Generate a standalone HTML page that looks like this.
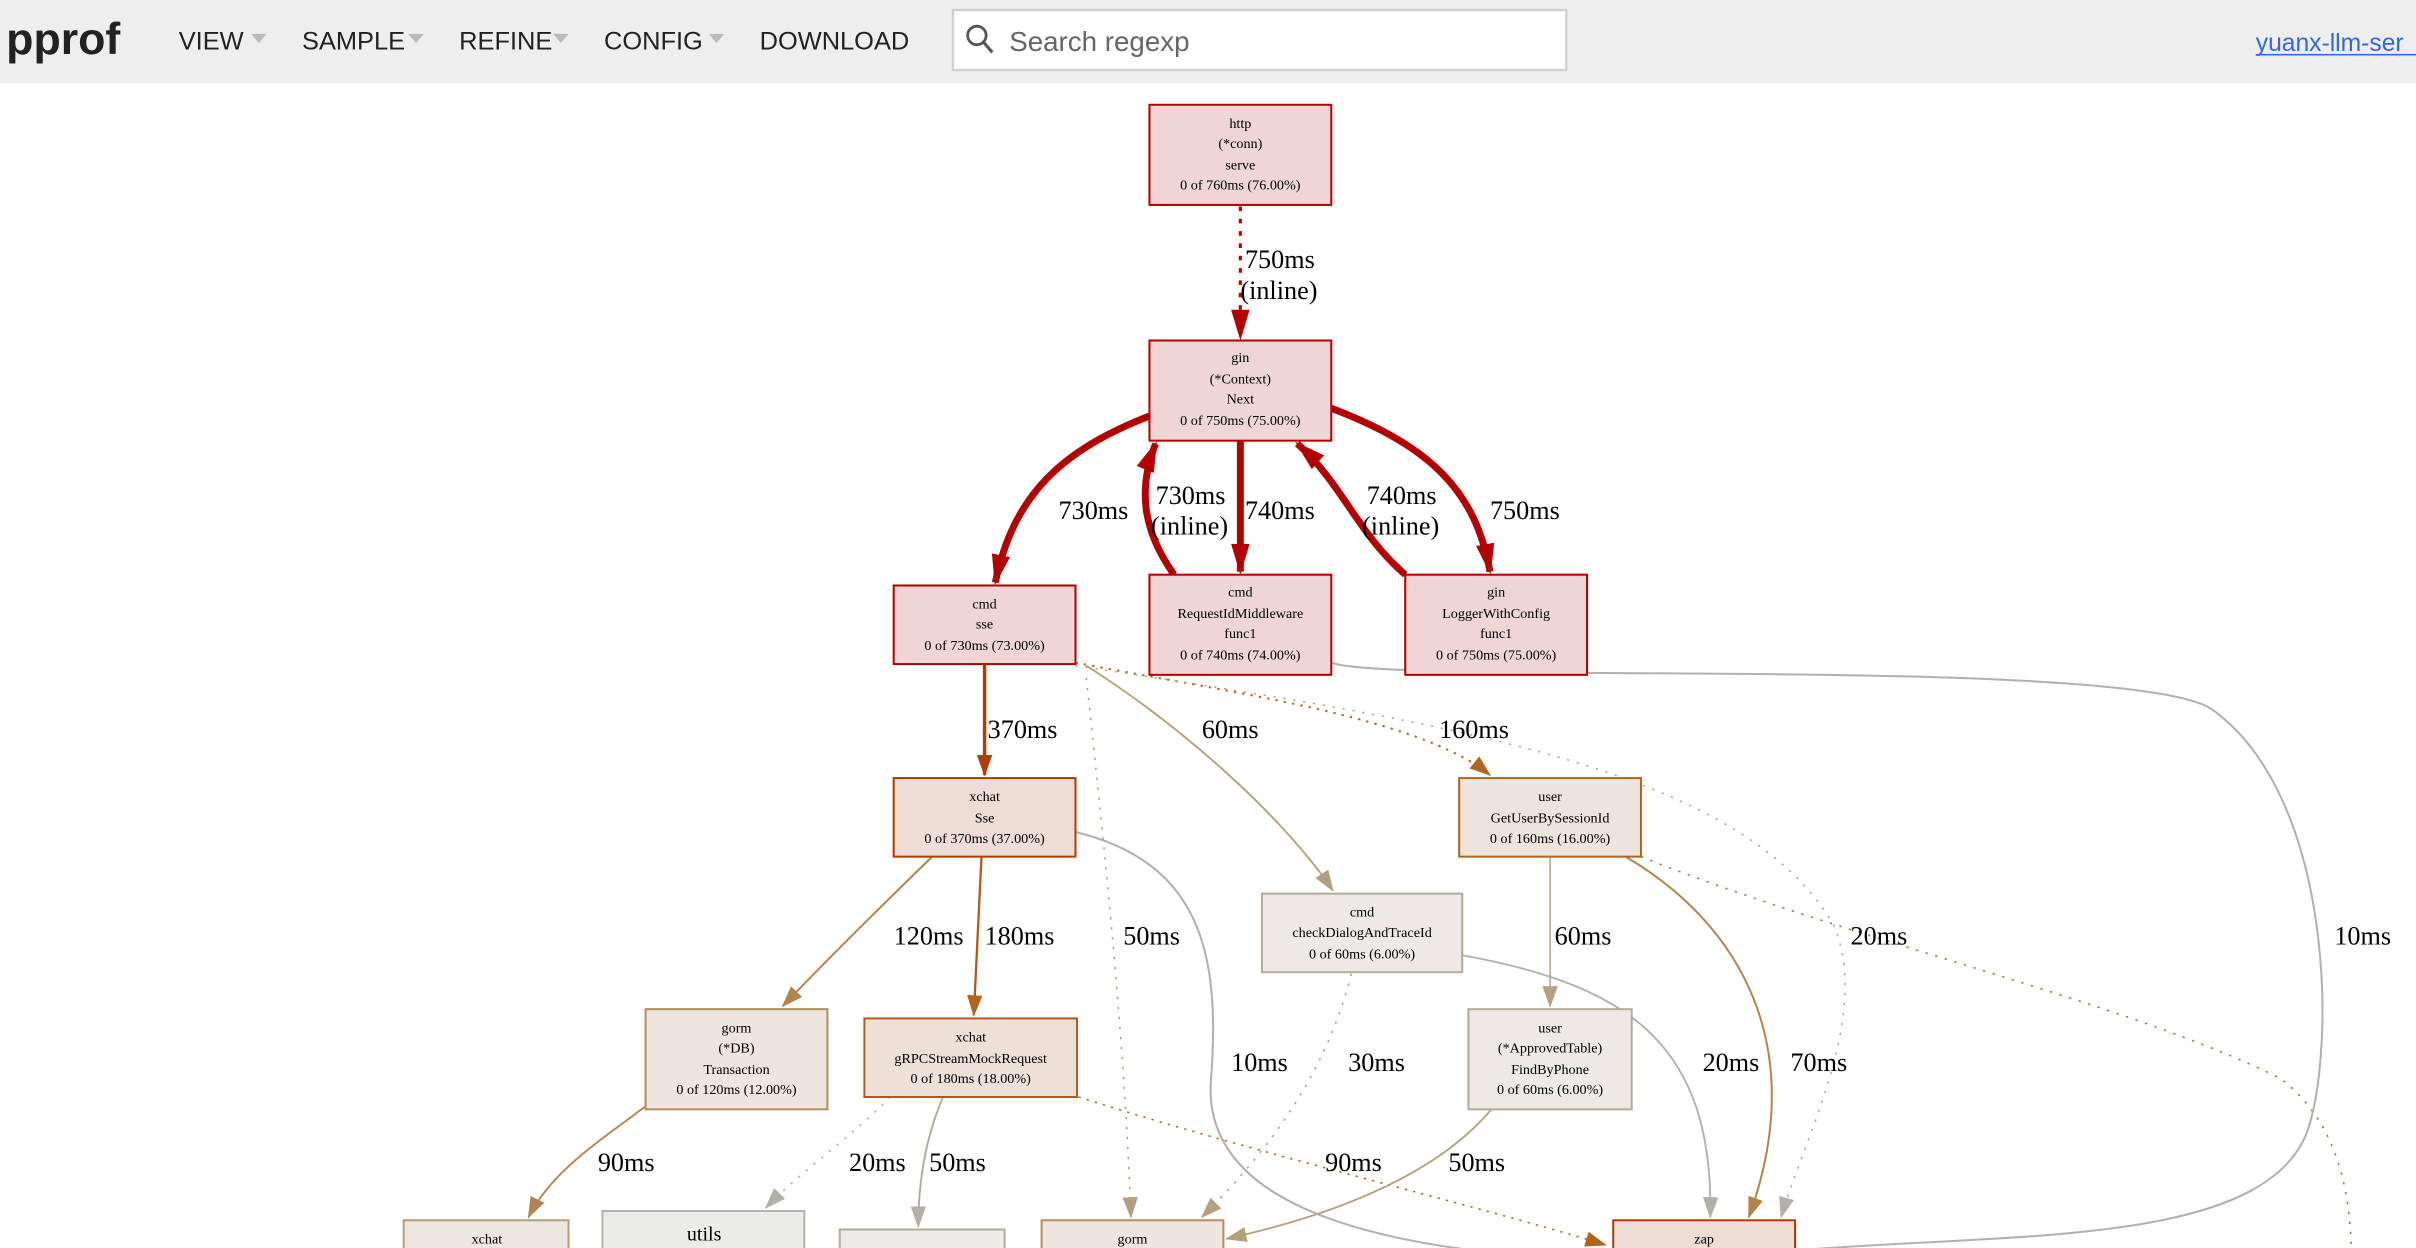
<!DOCTYPE html>
<html><head><meta charset="utf-8"><style>
html,body{margin:0;padding:0;background:#fff;overflow:hidden}
svg{display:block}
.h{font-family:"Liberation Sans",sans-serif}
.n{font-family:"Liberation Serif",serif;font-size:9.2px;text-anchor:middle;fill:#000}
.l{font-family:"Liberation Serif",serif;font-size:17px;fill:#000}
</style></head><body>
<svg width="2416" height="1248" viewBox="0 0 1568 810" preserveAspectRatio="none" xmlns="http://www.w3.org/2000/svg">
<defs>
<marker id="ar" markerUnits="userSpaceOnUse" markerWidth="20" markerHeight="20" refX="18" refY="6" orient="auto" viewBox="0 0 20 12"><path d="M0,0 L20,6 L0,12z" fill="#b20000"/></marker>
<marker id="ao" markerUnits="userSpaceOnUse" markerWidth="14" markerHeight="12" refX="13" refY="5" orient="auto" viewBox="0 0 14 10"><path d="M0,0 L14,5 L0,10z" fill="#b23c00"/></marker>
<marker id="ab" markerUnits="userSpaceOnUse" markerWidth="14" markerHeight="12" refX="13" refY="5" orient="auto" viewBox="0 0 14 10"><path d="M0,0 L14,5 L0,10z" fill="#b2651e"/></marker>
<marker id="at" markerUnits="userSpaceOnUse" markerWidth="14" markerHeight="12" refX="13" refY="5" orient="auto" viewBox="0 0 14 10"><path d="M0,0 L14,5 L0,10z" fill="#b2a080"/></marker>
<marker id="ag" markerUnits="userSpaceOnUse" markerWidth="14" markerHeight="12" refX="13" refY="5" orient="auto" viewBox="0 0 14 10"><path d="M0,0 L14,5 L0,10z" fill="#b2b0a8"/></marker>
<marker id="am" markerUnits="userSpaceOnUse" markerWidth="14" markerHeight="12" refX="13" refY="5" orient="auto" viewBox="0 0 14 10"><path d="M0,0 L14,5 L0,10z" fill="#b28550"/></marker>
</defs>
<!-- header -->
<rect x="0" y="0" width="1568" height="54" fill="#eeeeee"/>
<text class="h" x="4" y="35" font-size="29" font-weight="bold" fill="#222">pprof</text>
<g class="h" font-size="16.5" fill="#222">
<text x="116" y="32">VIEW</text><text x="196" y="32">SAMPLE</text><text x="298" y="32">REFINE</text><text x="392" y="32">CONFIG</text><text x="493" y="32">DOWNLOAD</text>
</g>
<g fill="#bbb"><path d="M163,22h10l-5,6z"/><path d="M265,22h10l-5,6z"/><path d="M359,22h10l-5,6z"/><path d="M460,22h10l-5,6z"/></g>
<rect x="618.5" y="6.5" width="398" height="39" fill="#fff" stroke="#d0d0d0" stroke-width="1.5"/>
<circle cx="634" cy="23" r="6" fill="none" stroke="#555" stroke-width="1.8"/><path d="M638,27 L644,34" stroke="#555" stroke-width="2"/>
<text class="h" x="655" y="33" font-size="18" fill="#666">Search regexp</text>
<text class="h" x="1464" y="33" font-size="16" fill="#3366dd">yuanx-llm-ser</text>
<rect x="1464" y="35" width="104" height="1" fill="#3366dd"/>

<!-- edges -->
<g fill="none">
<path d="M805,134 L805,219" stroke="#b20000" stroke-width="2" stroke-dasharray="3,5" marker-end="url(#ar)"/>
<path d="M746,270 C690,292 658,320 646,378" stroke="#b20000" stroke-width="4.5" marker-end="url(#ar)"/>
<path d="M762,373 C742,345 738,318 750,288" stroke="#b20000" stroke-width="4.5" marker-end="url(#ar)"/>
<path d="M805,286 L805,371" stroke="#b20000" stroke-width="4.5" marker-end="url(#ar)"/>
<path d="M912,373 C880,345 872,315 842,288" stroke="#b20000" stroke-width="4.5" marker-end="url(#ar)"/>
<path d="M864,265 C930,290 958,320 967,371" stroke="#b20000" stroke-width="4.5" marker-end="url(#ar)"/>
<path d="M639,431 L639,503" stroke="#b23c00" stroke-width="2.2" marker-end="url(#ao)"/>
<path d="M698,430 C800,450 920,465 967,503" stroke="#b2651e" stroke-width="1.3" stroke-dasharray="1.5,4" marker-end="url(#ab)"/>
<path d="M705,432 C780,480 840,540 865,578" stroke="#b2a080" stroke-width="1.2" marker-end="url(#at)"/>
<path d="M705,440 C718,560 730,680 734,790" stroke="#b2a080" stroke-width="1" stroke-dasharray="1.5,5" marker-end="url(#at)"/>
<path d="M698,432 C950,470 1130,500 1190,600 C1215,660 1170,740 1156,790" stroke="#b2a898" stroke-width="1" stroke-dasharray="1.5,5" marker-end="url(#ag)"/>
<path d="M1065,556 C1200,610 1380,650 1480,700 C1520,730 1525,780 1526,810" stroke="#b27040" stroke-width="1" stroke-dasharray="1.5,5"/>
<path d="M864,430 C900,445 1380,425 1435,460 C1520,520 1515,700 1495,740 C1460,810 1300,800 1160,812" stroke="#b2b0ac" stroke-width="1.3"/>
<path d="M698,540 C780,560 792,620 786,700 C780,770 860,800 960,812" stroke="#b2b0ac" stroke-width="1.3"/>
<path d="M605,556 C570,590 530,630 508,653" stroke="#b28550" stroke-width="1.3" marker-end="url(#am)"/>
<path d="M637,556 L632,659" stroke="#b25a1e" stroke-width="1.5" marker-end="url(#ab)"/>
<path d="M1006,556 L1006,653" stroke="#b2a080" stroke-width="1" marker-end="url(#at)"/>
<path d="M1055,556 C1130,600 1175,680 1135,790" stroke="#b28550" stroke-width="1.3" marker-end="url(#am)"/>
<path d="M949,620 C1060,640 1112,680 1110,790" stroke="#b2b0ac" stroke-width="1.2" marker-end="url(#ag)"/>
<path d="M877,632 C860,700 820,750 780,790" stroke="#b2a080" stroke-width="1" stroke-dasharray="1.5,5" marker-end="url(#at)"/>
<path d="M419,718 C390,740 358,760 343,790" stroke="#b28550" stroke-width="1.2" marker-end="url(#am)"/>
<path d="M578,712 C550,740 520,760 497,784" stroke="#b2b0a8" stroke-width="1" stroke-dasharray="1.5,5" marker-end="url(#ag)"/>
<path d="M612,712 C600,740 596,770 596,796" stroke="#b2a898" stroke-width="1.2" marker-end="url(#ag)"/>
<path d="M700,712 C820,750 950,780 1042,808" stroke="#b2651e" stroke-width="1" stroke-dasharray="1.5,4" marker-end="url(#ab)"/>
<path d="M968,720 C930,765 860,790 796,804" stroke="#b2a080" stroke-width="1.2" marker-end="url(#at)"/>
</g>

<!-- edge labels -->
<g class="l">
<text x="808" y="174">750ms</text><text x="805" y="194">(inline)</text>
<text x="687" y="337">730ms</text>
<text x="750" y="327">730ms</text><text x="747" y="347">(inline)</text>
<text x="808" y="337">740ms</text>
<text x="887" y="327">740ms</text><text x="884" y="347">(inline)</text>
<text x="967" y="337">750ms</text>
<text x="641" y="479">370ms</text>
<text x="780" y="479">60ms</text>
<text x="934" y="479">160ms</text>
<text x="580" y="613">120ms</text><text x="639" y="613">180ms</text>
<text x="729" y="613">50ms</text>
<text x="1009" y="613">60ms</text>
<text x="1201" y="613">20ms</text>
<text x="1515" y="613">10ms</text>
<text x="799" y="695">10ms</text><text x="875" y="695">30ms</text>
<text x="1105" y="695">20ms</text><text x="1162" y="695">70ms</text>
<text x="388" y="760">90ms</text><text x="551" y="760">20ms</text><text x="603" y="760">50ms</text>
<text x="860" y="760">90ms</text><text x="940" y="760">50ms</text>
</g>

<!-- nodes -->
<g stroke-width="1.3">
<rect x="746" y="68" width="118" height="65" fill="#edd6d5" stroke="#b20000"/>
<rect x="746" y="221" width="118" height="65" fill="#edd6d5" stroke="#b20000"/>
<rect x="580" y="380" width="118" height="51" fill="#edd6d5" stroke="#b20000"/>
<rect x="746" y="373" width="118" height="65" fill="#edd6d5" stroke="#b20000"/>
<rect x="912" y="373" width="118" height="65" fill="#edd6d5" stroke="#b20000"/>
<rect x="580" y="505" width="118" height="51" fill="#edddd5" stroke="#b23c00"/>
<rect x="947" y="505" width="118" height="51" fill="#ede4dc" stroke="#b2651e"/>
<rect x="819" y="580" width="130" height="51" fill="#edeae6" stroke="#b2ab9a"/>
<rect x="419" y="655" width="118" height="65" fill="#ede5de" stroke="#b28d62"/>
<rect x="561" y="661" width="138" height="51" fill="#ede0d7" stroke="#b25a1e"/>
<rect x="953" y="655" width="106" height="65" fill="#edeae6" stroke="#b2ab9a"/>
<rect x="262" y="792" width="107" height="30" fill="#ede7e1" stroke="#b29d7f"/>
<rect x="391" y="786" width="131" height="40" fill="#ececeb" stroke="#b2b2ae"/>
<rect x="545" y="798" width="107" height="30" fill="#edebe8" stroke="#b2ab9a"/>
<rect x="676" y="792" width="118" height="30" fill="#ede5de" stroke="#b28d62"/>
<rect x="1047" y="792" width="118" height="30" fill="#edddd5" stroke="#b23c00"/>
</g>
<g class="n">
<text x="805" y="83">http</text><text x="805" y="96">(*conn)</text><text x="805" y="110">serve</text><text x="805" y="123">0 of 760ms (76.00%)</text>
<text x="805" y="235">gin</text><text x="805" y="249">(*Context)</text><text x="805" y="262">Next</text><text x="805" y="276">0 of 750ms (75.00%)</text>
<text x="639" y="395">cmd</text><text x="639" y="408">sse</text><text x="639" y="422">0 of 730ms (73.00%)</text>
<text x="805" y="387">cmd</text><text x="805" y="401">RequestIdMiddleware</text><text x="805" y="414">func1</text><text x="805" y="428">0 of 740ms (74.00%)</text>
<text x="971" y="387">gin</text><text x="971" y="401">LoggerWithConfig</text><text x="971" y="414">func1</text><text x="971" y="428">0 of 750ms (75.00%)</text>
<text x="639" y="520">xchat</text><text x="639" y="534">Sse</text><text x="639" y="547">0 of 370ms (37.00%)</text>
<text x="1006" y="520">user</text><text x="1006" y="534">GetUserBySessionId</text><text x="1006" y="547">0 of 160ms (16.00%)</text>
<text x="884" y="595">cmd</text><text x="884" y="608">checkDialogAndTraceId</text><text x="884" y="622">0 of 60ms (6.00%)</text>
<text x="478" y="670">gorm</text><text x="478" y="683">(*DB)</text><text x="478" y="697">Transaction</text><text x="478" y="710">0 of 120ms (12.00%)</text>
<text x="630" y="676">xchat</text><text x="630" y="690">gRPCStreamMockRequest</text><text x="630" y="703">0 of 180ms (18.00%)</text>
<text x="1006" y="670">user</text><text x="1006" y="683">(*ApprovedTable)</text><text x="1006" y="697">FindByPhone</text><text x="1006" y="710">0 of 60ms (6.00%)</text>
<text x="316" y="807">xchat</text>
<text x="457" y="805" style="font-size:13px">utils</text>
<text x="598" y="812">...</text>
<text x="735" y="807">gorm</text>
<text x="1106" y="807">zap</text>
</g>
</svg>
</body></html>
